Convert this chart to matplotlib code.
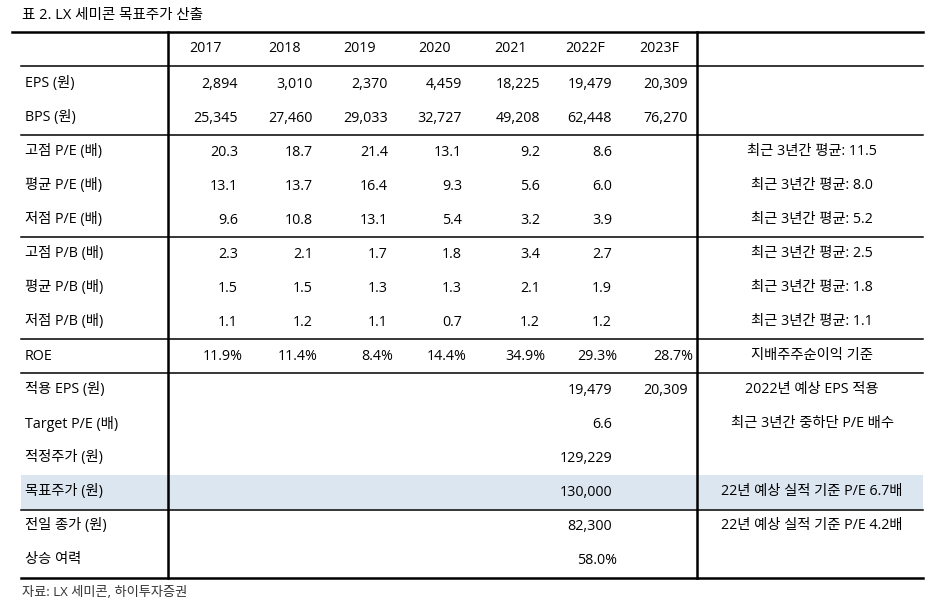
import matplotlib.pyplot as plt
from matplotlib.patches import Rectangle

plt.rcParams['font.family'] = ['Open Sans', 'Noto Sans CJK KR', 'DejaVu Sans']

title = "표 2. LX 세미콘 목표주가 산출"
source = "자료: LX 세미콘, 하이투자증권"

years = ['2017', '2018', '2019', '2020', '2021', '2022F', '2023F']

row_labels = ['EPS (원)', 'BPS (원)',
              '고점 P/E (배)', '평균 P/E (배)', '저점 P/E (배)',
              '고점 P/B (배)', '평균 P/B (배)', '저점 P/B (배)',
              'ROE',
              '적용 EPS (원)', 'Target P/E (배)', '적정주가 (원)', '목표주가 (원)',
              '전일 종가 (원)', '상승 여력']

eps = [2894, 3010, 2370, 4459, 18225, 19479, 20309]
bps = [25345, 27460, 29033, 32727, 49208, 62448, 76270]
pe_high = [20.3, 18.7, 21.4, 13.1, 9.2, 8.6, None]
pe_avg = [13.1, 13.7, 16.4, 9.3, 5.6, 6.0, None]
pe_low = [9.6, 10.8, 13.1, 5.4, 3.2, 3.9, None]
pb_high = [2.3, 2.1, 1.7, 1.8, 3.4, 2.7, None]
pb_avg = [1.5, 1.5, 1.3, 1.3, 2.1, 1.9, None]
pb_low = [1.1, 1.2, 1.1, 0.7, 1.2, 1.2, None]
roe = [11.9, 11.4, 8.4, 14.4, 34.9, 29.3, 28.7]
applied_eps = [None, None, None, None, None, 19479, 20309]
target_pe = [None, None, None, None, None, 6.6, None]
fair_price = [None, None, None, None, None, 129229, None]
target_price = [None, None, None, None, None, 130000, None]
prev_close = [None, None, None, None, None, 82300, None]
upside = [None, None, None, None, None, 58.0, None]

notes = ['', '',
         '최근 3년간 평균: 11.5', '최근 3년간 평균: 8.0', '최근 3년간 평균: 5.2',
         '최근 3년간 평균: 2.5', '최근 3년간 평균: 1.8', '최근 3년간 평균: 1.1',
         '지배주주순이익 기준',
         '2022년 예상 EPS 적용', '최근 3년간 중하단 P/E 배수', '',
         '22년 예상 실적 기준 P/E 6.7배', '22년 예상 실적 기준 P/E 4.2배', '']


def fmt_int(v):
    return '' if v is None else f'{v:,}'


def fmt_1(v):
    return '' if v is None else f'{v:.1f}'


def fmt_pct(v):
    return '' if v is None else f'{v:.1f}%'


rows = [
    (eps, fmt_int), (bps, fmt_int),
    (pe_high, fmt_1), (pe_avg, fmt_1), (pe_low, fmt_1),
    (pb_high, fmt_1), (pb_avg, fmt_1), (pb_low, fmt_1),
    (roe, fmt_pct),
    (applied_eps, fmt_int), (target_pe, fmt_1), (fair_price, fmt_int),
    (target_price, fmt_int), (prev_close, fmt_int), (upside, fmt_pct),
]

# 레이아웃 (픽셀 좌표)
W, H = 930, 604
header_x = [205, 285, 360, 434, 510, 585, 659]
right_x = [238, 313, 388, 462, 540, 612, 688]
row_y0, row_h = 84, 34
fs = 10.3

fig = plt.figure(figsize=(W / 100, H / 100), dpi=100)
ax = fig.add_axes([0, 0, 1, 1])
ax.set_xlim(0, W)
ax.set_ylim(H, 0)
ax.axis('off')

# 목표주가 행 음영
shade_y = row_y0 + 12 * row_h
ax.add_patch(Rectangle((21, shade_y - 17), 902, 34, color='#dce6f1', lw=0, zorder=0))

ax.text(22, 15, title, fontsize=10.5, va='center', ha='left')

for x, yr in zip(header_x, years):
    ax.text(x, 49, yr, fontsize=fs, va='center', ha='center')

for i, (label, (vals, f)) in enumerate(zip(row_labels, rows)):
    y = row_y0 + i * row_h
    ax.text(25, y, label, fontsize=fs, va='center', ha='left')
    for x, v in zip(right_x, vals):
        s = f(v)
        if s.endswith('%'):
            x += 5
        ax.text(x, y, s, fontsize=fs, va='center', ha='right')
    if notes[i]:
        ax.text(812, y, notes[i], fontsize=fs, va='center', ha='center')

# 테두리 선
ax.plot([12, 923], [32, 32], color='black', lw=1.8)
for y in [66, 135, 237, 339, 373, 510]:
    ax.plot([21, 923], [y, y], color='black', lw=1.1)
ax.plot([21, 923], [578, 578], color='black', lw=1.8)
for x in [168, 697]:
    ax.plot([x, x], [32, 578], color='black', lw=1.8)

ax.text(22, 592, source, fontsize=9.5, va='center', ha='left', color='#333333')

fig.savefig('out.png', dpi=100)
